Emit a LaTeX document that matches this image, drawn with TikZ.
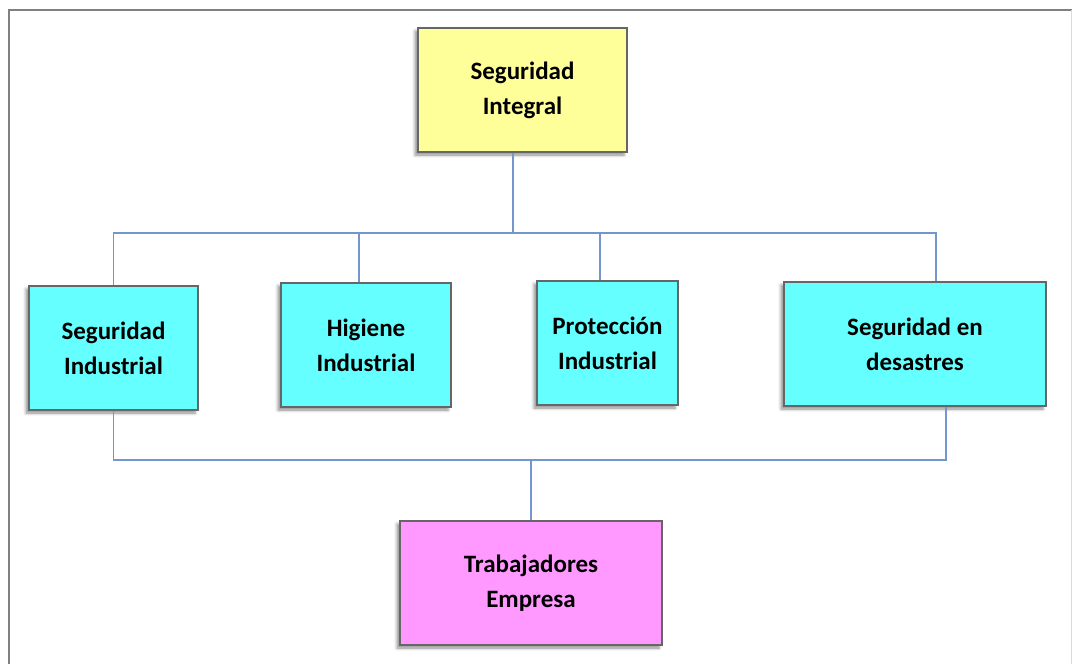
\documentclass[tikz,border=0pt]{standalone}
\usepackage{fontspec}
\setmainfont{Carlito}
\usepackage{tikz}
\usetikzlibrary{calc,shadows.blur}

\definecolor{linkblue}{HTML}{7396CC}
\definecolor{boxgray}{HTML}{666666}
\definecolor{yellowbox}{HTML}{FFFF99}
\definecolor{cyanbox}{HTML}{66FFFF}
\definecolor{pinkbox}{HTML}{FF99FF}

\begin{document}
\begin{tikzpicture}[x=1pt,y=-1pt,
    area/.style={draw=boxgray,line width=1.3pt,align=center,inner sep=0pt,
      font=\fontsize{25}{35}\selectfont\bfseries,
      blur shadow={shadow xshift=-3pt,shadow yshift=-3pt,shadow blur radius=3pt,shadow opacity=45}},
    link/.style={linkblue,line width=1.2pt}]
      \useasboundingbox (0,0) rectangle (1072,664);
      \draw[gray,line width=1.5pt] (9,664)--(9,10)--(1072,10);
      \draw[gray!30,line width=1pt] (1071,10)--(1071,664);
      % boxes
      \node[area,fill=yellowbox,minimum width=209pt,minimum height=124pt] (integral) at (522.5,90) {Seguridad\\Integral};
      \node[area,fill=cyanbox,minimum width=169pt,minimum height=124pt] (segind) at (113.5,348) {Seguridad\\Industrial};
      \node[area,fill=cyanbox,minimum width=170pt,minimum height=124pt] (higiene) at (366,345) {Higiene\\Industrial};
      \node[area,fill=cyanbox,minimum width=141pt,minimum height=124pt] (proteccion) at (607.5,343) {Protección\\Industrial};
      \node[area,fill=cyanbox,minimum width=262pt,minimum height=124pt] (desastres) at (915,344) {Seguridad en\\desastres};
      \node[area,fill=pinkbox,minimum width=262pt,minimum height=124pt] (trabajadores) at (531,583) {Trabajadores\\Empresa};
      % upper bus
      \coordinate (topbus) at (0,233);
      \draw[link] ([xshift=-9.5pt]integral.south)--([xshift=-9.5pt]integral.south |- topbus);
      \draw[link] (segind.north)--(segind.north |- topbus)--([xshift=21pt]desastres.north |- topbus)--([xshift=21pt]desastres.north);
      \draw[link] ([xshift=-7pt]higiene.north)--([xshift=-7pt]higiene.north |- topbus);
      \draw[link] ([xshift=-7.5pt]proteccion.north)--([xshift=-7.5pt]proteccion.north |- topbus);
      % lower bus
      \coordinate (lowbus) at (0,460);
      \draw[link] (segind.south)--(segind.south |- lowbus)--([xshift=31pt]desastres.south |- lowbus)--([xshift=31pt]desastres.south);
      \draw[link] (trabajadores.north |- lowbus)--(trabajadores.north);
    \end{tikzpicture}
\end{document}
